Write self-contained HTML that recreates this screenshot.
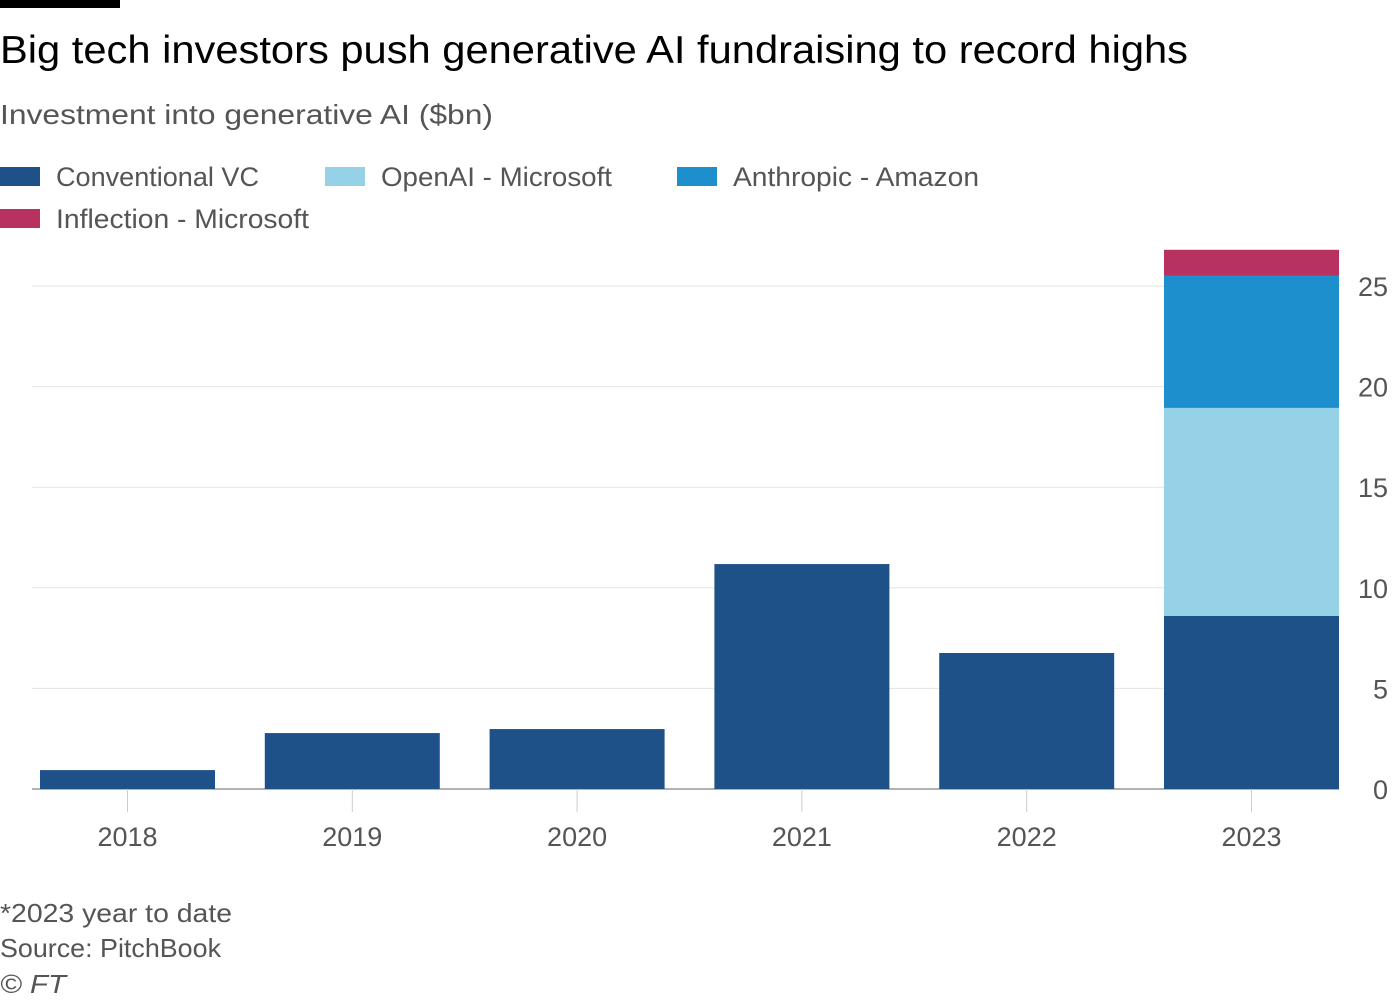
<!DOCTYPE html>
<html><head><meta charset="utf-8"><style>
html,body{margin:0;padding:0;background:#fff;}
svg{display:block;font-family:"Liberation Sans",sans-serif;}
</style></head><body>
<svg id="chart" width="1400" height="1000" viewBox="0 0 1400 1000">
<rect x="0" y="0" width="120" height="8" fill="#000"/>
<text x="0" y="63" font-size="39" fill="#000" textLength="1188" lengthAdjust="spacingAndGlyphs">Big tech investors push generative AI fundraising to record highs</text>
<text x="0" y="124" font-size="28" fill="#555" textLength="493" lengthAdjust="spacingAndGlyphs">Investment into generative AI ($bn)</text>
<g id="legend"></g>
<g id="grid"></g>
<g id="bars"></g>
<g id="xaxis"></g>
<g id="yaxis"></g>
<text x="0" y="922" font-size="26" fill="#555" textLength="232" lengthAdjust="spacingAndGlyphs">*2023 year to date</text>
<text x="0" y="957" font-size="26" fill="#555" textLength="221" lengthAdjust="spacingAndGlyphs">Source: PitchBook</text>
<text x="0" y="993" font-size="26" fill="#555" font-style="italic" textLength="66" lengthAdjust="spacingAndGlyphs">© FT</text>
</svg>
<script>
const categories = ["2018","2019","2020","2021","2022","2023"];
const conventionalVC = [0.94, 2.78, 2.98, 11.18, 6.76, 8.6];
const openAIMicrosoft = [0, 0, 0, 0, 0, 10.34];
const anthropicAmazon = [0, 0, 0, 0, 0, 6.56];
const inflectionMicrosoft = [0, 0, 0, 0, 0, 1.3];
const yTicks = [0, 5, 10, 15, 20, 25];
const seriesNames = ["Conventional VC","OpenAI - Microsoft","Anthropic - Amazon","Inflection - Microsoft"];

const NS = "http://www.w3.org/2000/svg";
const colors = ["#1f5189","#95d2e8","#1e8fcd","#b73261"];
const series = [conventionalVC, openAIMicrosoft, anthropicAmazon, inflectionMicrosoft];
const y0 = 789, pxPerUnit = 20.12;
const y = v => y0 - v * pxPerUnit;
const xCenter = i => 127.5 + i * 224.8;
const barW = 175;
function mk(tag, attrs, parent){const e=document.createElementNS(NS,tag);for(const k in attrs)e.setAttribute(k,attrs[k]);parent.appendChild(e);return e;}

const grid = document.getElementById('grid'), yaxis = document.getElementById('yaxis');
yTicks.forEach(t=>{
  const l = mk('line',{x1:32,x2:1339,y1:y(t),y2:y(t),stroke:t===0?'#999':'#e3e3e3','stroke-width':t===0?1.5:1},grid);
  
  
  const tx = mk('text',{x:1388,y:y(t)+10,'font-size':27,fill:'#555','text-anchor':'end'},yaxis);
  tx.textContent = t;
  
  
});

const bars = document.getElementById('bars'), xaxis = document.getElementById('xaxis');
categories.forEach((c,i)=>{
  let acc = 0;
  series.forEach((s,j)=>{
    const v = s[i]; if(!v) return;
    const r = mk('rect',{x:xCenter(i)-barW/2,y:y(acc+v),width:barW,height:v*pxPerUnit,fill:colors[j]},bars);
    
    
    acc += v;
  });
  const tk = mk('line',{x1:xCenter(i),x2:xCenter(i),y1:y0,y2:y0+23,stroke:'#ccc','stroke-width':1},xaxis);
  
  
  const t = mk('text',{x:xCenter(i),y:846,'font-size':27,fill:'#555','text-anchor':'middle'},xaxis);
  t.textContent = c;
  
  
});

const legend = document.getElementById('legend');
const lpos = [[0,167,56,203],[325,167,381,231],[677,167,733,246],[0,209,56,253]];
seriesNames.forEach((n,j)=>{
  const p = lpos[j];
  const sw = mk('rect',{x:p[0],y:p[1],width:40,height:19,fill:colors[j]},legend);
  
  
  const t = mk('text',{x:p[2],y:p[1]+19,'font-size':27,fill:'#555',textLength:p[3],lengthAdjust:'spacingAndGlyphs'},legend);
  t.textContent = n;
  
  
});
</script>
</body></html>
